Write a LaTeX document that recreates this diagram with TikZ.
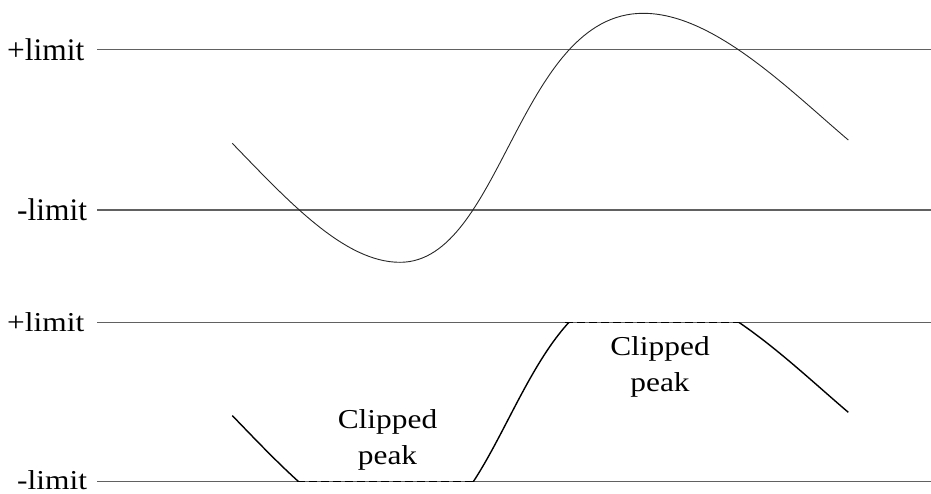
\documentclass[tikz,border=0pt]{standalone}
\usepackage{fontspec}
\setmainfont{Liberation Serif}
\begin{document}
\begin{tikzpicture}[x=1pt,y=-1pt,
  limitline/.style={draw=black!62, line width=1.1pt},
  wave/.style={draw=black!85, line width=0.9pt},
  clipwave/.style={draw=black, line width=1.4pt},
  clipdash/.style={draw=black, line width=1.5pt, dash pattern=on 8pt off 4pt},
  lbl/.style={inner sep=0pt, anchor=base west, font=\fontsize{31.4}{42.5}\selectfont},
  note/.style={inner sep=0pt, anchor=base, font=\fontsize{31.4}{42.5}\selectfont}]
\useasboundingbox (0,0) rectangle (931,493);
% ---- top panel ----
\node[lbl] (tplus) at (7,60) {+limit};
\node[lbl] (tminus) at (17,220) {-limit};
\coordinate (tpA) at (97,49.5);
\coordinate (tpB) at (931,49.5);
\coordinate (tmA) at (97,210);
\coordinate (tmB) at (931,210);
\draw[limitline] (tpA) -- (tpB);
\draw[limitline] (tmA) -- (tmB);
\coordinate (w0) at (232.3,143.3);
\coordinate (wmin) at (400,262.3);
\coordinate (wmax) at (643.3,13.3);
\coordinate (w3) at (848.3,140);
\draw[wave] (w0) .. controls (290,203) and (345,262.3) .. (wmin)
  .. controls (501.8,262.3) and (518.5,13.3) .. (wmax)
  .. controls (713.3,13.3) and (788.3,89) .. (w3);
% ---- bottom panel ----
\node[lbl] (bplus) at (7,331.7) {\scalebox{1}[0.87]{+limit}};
\node[lbl] (bminus) at (17,489.5) {\scalebox{1}[0.87]{-limit}};
\coordinate (bpA) at (97,322.3);
\coordinate (bpB) at (931,322.3);
\coordinate (bmA) at (97,481.7);
\coordinate (bmB) at (931,481.7);
\draw[limitline] (bpA) -- (bpB);
\draw[limitline] (bmA) -- (bmB);
\begin{scope}
  \clip (0,322.3) rectangle (931,481.7);
  \begin{scope}[shift={(0,272.3)}]
    \draw[clipwave] (232.3,143.3) .. controls (290,203) and (345,262.3) .. (400,262.3)
      .. controls (501.8,262.3) and (518.5,13.3) .. (643.3,13.3)
      .. controls (713.3,13.3) and (788.3,89) .. (848.3,140);
  \end{scope}
\end{scope}
\coordinate (d1a) at (296.7,481.7);
\coordinate (d1b) at (472.7,481.7);
\coordinate (d2a) at (565,322.3);
\coordinate (d2b) at (740,322.3);
\draw[clipdash] (d1a) -- (d1b);
\draw[clipdash] (d2a) -- (d2b);
\node[note] (cp1) at (387.5,428) {\scalebox{1}[0.87]{\begin{tabular}[t]{@{}c@{}}Clipped\\peak\end{tabular}}};
\node[note] (cp2) at (660,355) {\scalebox{1}[0.87]{\begin{tabular}[t]{@{}c@{}}Clipped\\peak\end{tabular}}};
\end{tikzpicture}
\end{document}
